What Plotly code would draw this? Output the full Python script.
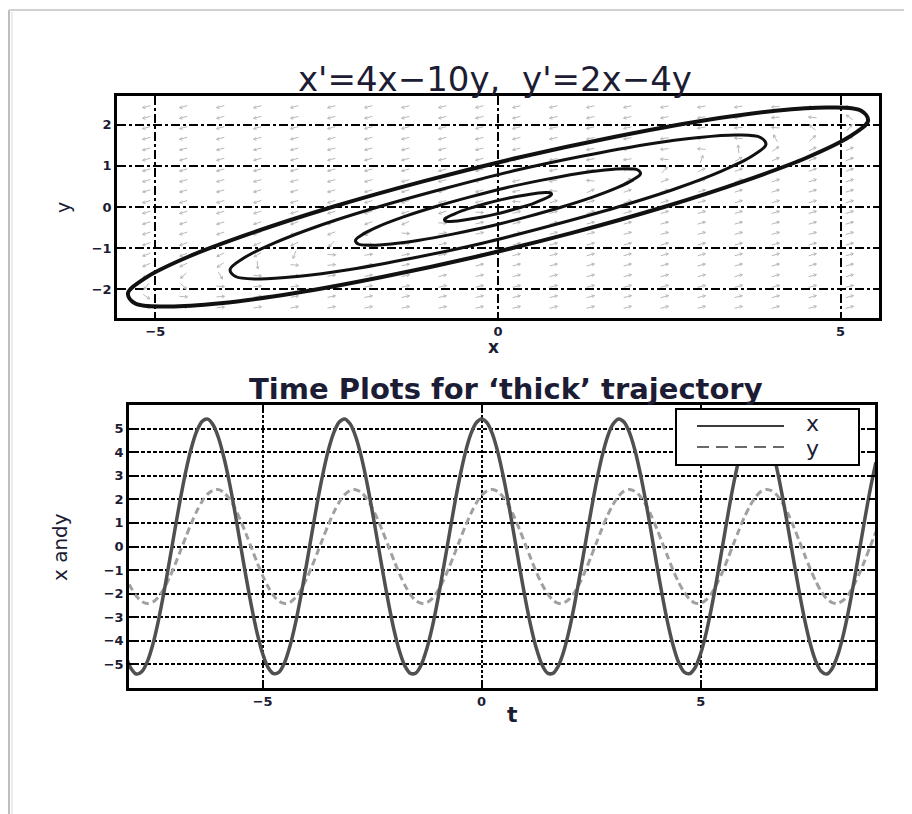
import math
import plotly.graph_objects as go

W, H = 912, 814

# ---------------- text ----------------
TITLE_TOP = "x'=4x\u221210y,  y'=2x\u22124y"
TITLE_BOTTOM = "Time Plots for \u2018thick\u2019 trajectory"
LABEL_X_TOP = "x"
LABEL_Y_TOP = "y"
LABEL_X_BOTTOM = "t"
LABEL_Y_BOTTOM = "x andy"
LEGEND_NAMES = ["x", "y"]

# ---------------- data ----------------
# linear system  x' = a x + b y ,  y' = c x + d y  (from the title)
coef_a, coef_b, coef_c, coef_d = 4, -10, 2, -4

# direction-field sample positions
field_x = [-5.13, -4.59, -4.05, -3.51, -2.97, -2.43, -1.89, -1.35, -0.81, -0.27,
           0.27, 0.81, 1.35, 1.89, 2.43, 2.97, 3.51, 4.05, 4.59, 5.13]
field_y = [-2.44, -2.18, -1.93, -1.67, -1.41, -1.16, -0.90, -0.64, -0.39, -0.13,
           0.13, 0.39, 0.64, 0.90, 1.16, 1.41, 1.67, 1.93, 2.18, 2.44]

# trajectories in the phase plane
orbit_thick_x = [2.42, 3.59, 4.52, 5.13, 5.40, 5.30, 4.84, 4.05, 2.98, 1.71, 0.32, -1.08,
                 -2.42, -3.59, -4.52, -5.13, -5.40, -5.30, -4.84, -4.05, -2.98, -1.71, -0.32, 1.08, 2.42]
orbit_thick_y = [0.00, 0.63, 1.21, 1.71, 2.10, 2.34, 2.42, 2.34, 2.10, 1.71, 1.21, 0.63,
                 0.00, -0.63, -1.21, -1.71, -2.10, -2.34, -2.42, -2.34, -2.10, -1.71, -1.21, -0.63, 0.00]
orbit_2_x = [1.75, 2.60, 3.27, 3.71, 3.91, 3.83, 3.50, 2.93, 2.16, 1.24, 0.23, -0.78,
             -1.75, -2.60, -3.27, -3.71, -3.91, -3.83, -3.50, -2.93, -2.16, -1.24, -0.23, 0.78, 1.75]
orbit_2_y = [0.00, 0.45, 0.88, 1.24, 1.52, 1.69, 1.75, 1.69, 1.52, 1.24, 0.88, 0.45,
             0.00, -0.45, -0.88, -1.24, -1.52, -1.69, -1.75, -1.69, -1.52, -1.24, -0.88, -0.45, 0.00]
orbit_3_x = [0.93, 1.38, 1.74, 1.97, 2.08, 2.04, 1.86, 1.56, 1.15, 0.66, 0.12, -0.42,
             -0.93, -1.38, -1.74, -1.97, -2.08, -2.04, -1.86, -1.56, -1.15, -0.66, -0.12, 0.42, 0.93]
orbit_3_y = [0.00, 0.24, 0.47, 0.66, 0.81, 0.90, 0.93, 0.90, 0.81, 0.66, 0.47, 0.24,
             0.00, -0.24, -0.47, -0.66, -0.81, -0.90, -0.93, -0.90, -0.81, -0.66, -0.47, -0.24, 0.00]
orbit_4_x = [0.35, 0.52, 0.65, 0.74, 0.78, 0.77, 0.70, 0.59, 0.43, 0.25, 0.05, -0.16,
             -0.35, -0.52, -0.65, -0.74, -0.78, -0.77, -0.70, -0.59, -0.43, -0.25, -0.05, 0.16, 0.35]
orbit_4_y = [0.00, 0.09, 0.18, 0.25, 0.30, 0.34, 0.35, 0.34, 0.30, 0.25, 0.18, 0.09,
             0.00, -0.09, -0.18, -0.25, -0.30, -0.34, -0.35, -0.34, -0.30, -0.25, -0.18, -0.09, 0.00]

# time plots of the thick trajectory
time_t = [-8.25, -8.125, -8.0, -7.875, -7.75, -7.625, -7.5, -7.375, -7.25, -7.125, -7.0, -6.875,
          -6.75, -6.625, -6.5, -6.375, -6.25, -6.125, -6.0, -5.875, -5.75, -5.625, -5.5, -5.375,
          -5.25, -5.125, -5.0, -4.875, -4.75, -4.625, -4.5, -4.375, -4.25, -4.125, -4.0, -3.875,
          -3.75, -3.625, -3.5, -3.375, -3.25, -3.125, -3.0, -2.875, -2.75, -2.625, -2.5, -2.375,
          -2.25, -2.125, -2.0, -1.875, -1.75, -1.625, -1.5, -1.375, -1.25, -1.125, -1.0, -0.875,
          -0.75, -0.625, -0.5, -0.375, -0.25, -0.125, 0.0, 0.125, 0.25, 0.375, 0.5, 0.625,
          0.75, 0.875, 1.0, 1.125, 1.25, 1.375, 1.5, 1.625, 1.75, 1.875, 2.0, 2.125,
          2.25, 2.375, 2.5, 2.625, 2.75, 2.875, 3.0, 3.125, 3.25, 3.375, 3.5, 3.625,
          3.75, 3.875, 4.0, 4.125, 4.25, 4.375, 4.5, 4.625, 4.75, 4.875, 5.0, 5.125,
          5.25, 5.375, 5.5, 5.625, 5.75, 5.875, 6.0, 6.125, 6.25, 6.375, 6.5, 6.625,
          6.75, 6.875, 7.0, 7.125, 7.25, 7.375, 7.5, 7.625, 7.75, 7.875, 8.0, 8.125,
          8.25, 8.375, 8.5, 8.625, 8.75, 8.875, 9.0]
time_x = [-3.80, -4.63, -5.18, -5.41, -5.29, -4.85, -4.11, -3.11, -1.92, -0.61, 0.74, 2.04,
          3.22, 4.19, 4.91, 5.32, 5.40, 5.14, 4.57, 3.71, 2.64, 1.38, 0.02, -1.32,
          -2.57, -3.67, -4.54, -5.13, -5.39, -5.33, -4.93, -4.22, -3.26, -2.09, -0.79, 0.56,
          1.88, 3.07, 4.08, 4.83, 5.28, 5.41, 5.19, 4.66, 3.83, 2.77, 1.53, 0.20,
          -1.14, -2.41, -3.54, -4.44, -5.07, -5.38, -5.36, -5.00, -4.33, -3.40, -2.25, -0.96,
          0.38, 1.71, 2.92, 3.96, 4.75, 5.24, 5.41, 5.24, 4.75, 3.96, 2.92, 1.71,
          0.38, -0.96, -2.25, -3.40, -4.33, -5.00, -5.36, -5.38, -5.07, -4.44, -3.54, -2.41,
          -1.14, 0.20, 1.53, 2.77, 3.83, 4.66, 5.19, 5.41, 5.28, 4.83, 4.08, 3.07,
          1.88, 0.56, -0.79, -2.09, -3.26, -4.22, -4.93, -5.33, -5.39, -5.13, -4.54, -3.67,
          -2.57, -1.32, 0.02, 1.38, 2.64, 3.71, 4.57, 5.14, 5.40, 5.32, 4.91, 4.19,
          3.22, 2.04, 0.74, -0.61, -1.92, -3.11, -4.11, -4.85, -5.29, -5.41, -5.18, -4.63,
          -3.80, -2.73, -1.49, -0.16, 1.19, 2.46, 3.57]
time_y = [-0.75, -1.30, -1.76, -2.12, -2.34, -2.42, -2.35, -2.13, -1.78, -1.32, -0.77, -0.18,
          0.42, 1.00, 1.51, 1.93, 2.23, 2.39, 2.41, 2.27, 2.00, 1.60, 1.09, 0.52,
          -0.08, -0.68, -1.23, -1.71, -2.08, -2.32, -2.42, -2.37, -2.17, -1.83, -1.38, -0.85,
          -0.26, 0.34, 0.92, 1.45, 1.88, 2.20, 2.38, 2.41, 2.30, 2.04, 1.65, 1.16,
          0.60, 0.00, -0.60, -1.16, -1.65, -2.04, -2.30, -2.41, -2.38, -2.20, -1.88, -1.45,
          -0.92, -0.34, 0.26, 0.85, 1.38, 1.83, 2.17, 2.36, 2.42, 2.32, 2.08, 1.71,
          1.23, 0.68, 0.08, -0.52, -1.09, -1.59, -1.99, -2.27, -2.41, -2.39, -2.23, -1.93,
          -1.51, -1.00, -0.42, 0.18, 0.77, 1.32, 1.78, 2.13, 2.35, 2.42, 2.34, 2.12,
          1.76, 1.30, 0.75, 0.16, -0.44, -1.02, -1.53, -1.94, -2.24, -2.40, -2.40, -2.26,
          -1.98, -1.57, -1.07, -0.49, 0.11, 0.70, 1.25, 1.72, 2.09, 2.33, 2.42, 2.36,
          2.16, 1.82, 1.37, 0.83, 0.24, -0.36, -0.94, -1.46, -1.90, -2.21, -2.38, -2.41,
          -2.29, -2.03, -1.63, -1.14, -0.58, 0.02, 0.62]

top_xticks = [-5, 0, 5]
top_yticks = [-2, -1, 0, 1, 2]
bot_xticks = [-5, 0, 5]
bot_yticks = [-5, -4, -3, -2, -1, 0, 1, 2, 3, 4, 5]

# ---------------- layout geometry (pixels in the window) ----------------
OFF = 8                             # page body margin
TOP_BOX = (117, 879, 96, 318)       # left, right, top, bottom
BOT_BOX = (129, 875, 405, 688)
TOP_XR = [-5.56, 5.56]
TOP_YR = [-2.7, 2.7]
BOT_XR = [-8.05, 8.98]
BOT_YR = [-6.0, 6.0]


def PX(x):
    return (x - OFF) / W


def PY(y):
    return 1 - (y - OFF) / H


TXT = "#1c1c34"
FONT = "DejaVu Sans"

fig = go.Figure()

# ---- direction field arrows (screen-normalised) ----
sx = (TOP_BOX[1] - TOP_BOX[0]) / (TOP_XR[1] - TOP_XR[0])
sy = (TOP_BOX[3] - TOP_BOX[2]) / (TOP_YR[1] - TOP_YR[0])
L = 8.0
HEAD = 3.0
HA = math.radians(30)
ax_, ay_ = [], []
for gx in field_x:
    for gy in field_y:
        vx = coef_a * gx + coef_b * gy
        vy = coef_c * gx + coef_d * gy
        px, py = vx * sx, vy * sy
        n = math.hypot(px, py)
        ux, uy = px / n, py / n
        tx, ty = gx + L * ux / (2 * sx), gy + L * uy / (2 * sy)
        bx, by = gx - L * ux / (2 * sx), gy - L * uy / (2 * sy)
        ax_ += [bx, tx, None]
        ay_ += [by, ty, None]
        for sgn in (1, -1):
            ca, sa = math.cos(sgn * HA), math.sin(sgn * HA)
            rx = -ux * ca + uy * sa
            ry = -ux * sa - uy * ca
            ax_ += [tx, tx + HEAD * rx / sx, None]
            ay_ += [ty, ty + HEAD * ry / sy, None]

ARROW_C = "#b8b8b8"
fig.add_trace(go.Scatter(x=ax_, y=ay_, mode="lines", name="direction field",
                         line=dict(color=ARROW_C, width=1), hoverinfo="skip",
                         xaxis="x", yaxis="y"))

# ---- trajectories ----
orbits = [(orbit_4_x, orbit_4_y, 3), (orbit_3_x, orbit_3_y, 3),
          (orbit_2_x, orbit_2_y, 3), (orbit_thick_x, orbit_thick_y, 4)]
for i, (ox, oy, w) in enumerate(orbits):
    fig.add_trace(go.Scatter(x=ox, y=oy, mode="lines", name=f"orbit {i+1}",
                             line=dict(color="#111111", width=w, shape="spline", smoothing=1.0),
                             xaxis="x", yaxis="y"))

# ---- time plots ----
fig.add_trace(go.Scatter(x=time_t, y=time_y, mode="lines", name=LEGEND_NAMES[1],
                         line=dict(color="#a0a0a0", width=3, dash="7px,4px", shape="spline",
                                   smoothing=0.8),
                         xaxis="x2", yaxis="y2"))
fig.add_trace(go.Scatter(x=time_t, y=time_x, mode="lines", name=LEGEND_NAMES[0],
                         line=dict(color="#505050", width=3.5, shape="spline", smoothing=0.8),
                         xaxis="x2", yaxis="y2"))

tickfont = dict(family=FONT, size=13, color=TXT, weight="bold")
common = dict(showline=True, linecolor="black", linewidth=2.5, mirror="allticks",
              ticks="inside", ticklen=6, tickwidth=2, tickcolor="black",
              showgrid=True, gridcolor="black", zeroline=False,
              tickfont=tickfont, tickmode="array")

fig.update_layout(
    width=W, height=H,
    margin=dict(l=0, r=0, t=0, b=0),
    paper_bgcolor="white", plot_bgcolor="white",
    showlegend=False,
    xaxis=dict(domain=[PX(TOP_BOX[0]), PX(TOP_BOX[1])], range=TOP_XR, anchor="y",
               tickvals=top_xticks, griddash="9px,3px,3px,3px", gridwidth=2, **common),
    yaxis=dict(domain=[PY(TOP_BOX[3]), PY(TOP_BOX[2])], range=TOP_YR, anchor="x",
               tickvals=top_yticks, griddash="9px,3px,3px,3px", gridwidth=2, **common),
    xaxis2=dict(domain=[PX(BOT_BOX[0]), PX(BOT_BOX[1])], range=BOT_XR, anchor="y2",
                tickvals=bot_xticks, griddash="3px,2px", gridwidth=1.8, **common),
    yaxis2=dict(domain=[PY(BOT_BOX[3]), PY(BOT_BOX[2])], range=BOT_YR, anchor="x2",
                tickvals=bot_yticks, griddash="4px,2px", gridwidth=1.6, **common),
)

ann = []


def add_text(text, x, y, size, bold=False, angle=0, xanchor="center", yanchor="middle"):
    ann.append(dict(text=text, x=PX(x), y=PY(y), xref="paper", yref="paper",
                    showarrow=False, xanchor=xanchor, yanchor=yanchor, textangle=angle,
                    font=dict(family=FONT, size=size, color=TXT,
                              weight="bold" if bold else "normal")))


add_text(TITLE_TOP, 495, 79, 34)
add_text(TITLE_BOTTOM, 506, 389, 29, bold=True)
add_text(LABEL_X_TOP, 493, 347, 17, bold=True)
add_text(LABEL_Y_TOP, 63, 208, 19, angle=-90)
add_text(LABEL_X_BOTTOM, 512, 714, 22, bold=True)
add_text(LABEL_Y_BOTTOM, 60, 547, 20, angle=-90)

# legend (box, samples, labels)
LEG = (676, 859, 409, 465)
shapes = [
    dict(type="rect", xref="paper", yref="paper", x0=PX(LEG[0]), x1=PX(LEG[1]),
         y0=PY(LEG[3]), y1=PY(LEG[2]), fillcolor="white",
         line=dict(color="black", width=2), layer="above"),
    dict(type="line", xref="paper", yref="paper", x0=PX(697), x1=PX(784),
         y0=PY(426), y1=PY(426), line=dict(color="#3c3c3c", width=2), layer="above"),
    dict(type="line", xref="paper", yref="paper", x0=PX(697), x1=PX(784),
         y0=PY(447), y1=PY(447), line=dict(color="#6a6a6a", width=2, dash="12px,7px"),
         layer="above"),
    # window frame edges
    dict(type="line", xref="paper", yref="paper", x0=PX(9), x1=PX(9), y0=PY(10), y1=PY(822),
         line=dict(color="#bdbdbd", width=2)),
    dict(type="line", xref="paper", yref="paper", x0=PX(9), x1=PX(920), y0=PY(10), y1=PY(10),
         line=dict(color="#d0d0d0", width=2)),
    dict(type="line", xref="paper", yref="paper", x0=PX(12), x1=PX(12), y0=PY(12), y1=PY(822),
         line=dict(color="#ececec", width=2)),
]
add_text(LEGEND_NAMES[0], 804, 423, 22, xanchor="left")
add_text(LEGEND_NAMES[1], 804, 449, 22, xanchor="left")

fig.update_layout(annotations=ann, shapes=shapes)
fig.write_html("out.html")
